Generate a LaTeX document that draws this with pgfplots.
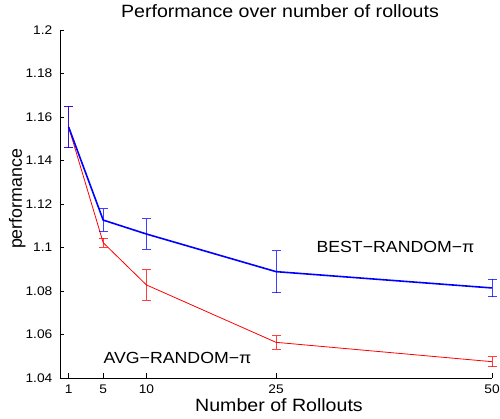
\documentclass[border=0pt]{standalone}
\usepackage{pgfplots}
\pgfplotsset{compat=1.18}
\usepackage{fontspec}
\setmainfont{Liberation Sans}[FakeStretch=1.1]
\newfontfamily\plainfont{Liberation Sans}
\begin{document}
\begin{tikzpicture}
\begin{axis}[
  name=ax,
  scale only axis, width=432pt, height=348pt,
  xmin=0, xmax=50, ymin=1.04, ymax=1.2,
  axis lines=left, axis line style={-, line width=0.6pt},
  xtick={1,5,10,25,50},
  ytick={1.04,1.06,1.08,1.1,1.12,1.14,1.16,1.18,1.2},
  tick align=inside, major tick length=4.5pt,
  tick style={black, line width=0.6pt},
  ticklabel style={font=\fontsize{12.5}{14}\selectfont, inner sep=0pt},
  xticklabel style={anchor=base, yshift=-16pt},
  yticklabel style={anchor=east, xshift=-7.5pt},
  /pgf/number format/assume math mode=true,
  yticklabel style={/pgf/number format/fixed, /pgf/number format/precision=2},
  every axis title shift=0pt,
  title={Performance over number of rollouts},
  title style={font=\fontsize{17.8}{20}\selectfont, inner sep=0pt,
    at={(rel axis cs:0.5,1)}, anchor=base, yshift=12pt, xshift=4pt},
  xlabel={Number of Rollouts},
  xlabel style={font=\fontsize{17.8}{20}\selectfont, inner sep=0pt,
    at={(rel axis cs:0.5,0)}, anchor=base, yshift=-34pt, xshift=3pt},
  ylabel={performance},
  ylabel style={font=\plainfont\fontsize{17.8}{20}\selectfont, inner sep=0pt,
    at={(rel axis cs:0,0.5)}, anchor=base, xshift=5pt, yshift=38pt},
  clip=false,
]
\addplot[red, line width=0.8pt, error bars/.cd, y dir=both, y explicit,
  error bar style={line width=0.7pt, opacity=0.75},
  error mark options={rotate=90, mark size=4.5pt, line width=0.7pt, opacity=0.75}]
  coordinates {
  (1,1.1554) +- (0,0.0095)
  (5,1.1022) +- (0,0.0021)
  (10,1.0828) +- (0,0.0070)
  (25,1.0564) +- (0,0.0030)
  (50,1.0475) +- (0,0.0023)
  };
\addplot[blue, line width=1.6pt, error bars/.cd, y dir=both, y explicit,
  error bar style={line width=0.7pt, opacity=0.75},
  error mark options={rotate=90, mark size=4.5pt, line width=0.7pt, opacity=0.75}]
  coordinates {
  (1,1.1554) +- (0,0.0095)
  (5,1.1126) +- (0,0.0052)
  (10,1.1062) +- (0,0.0071)
  (25,1.0889) +- (0,0.0097)
  (50,1.0814) +- (0,0.0040)
  };
\node[font=\fontsize{16.1}{18}\selectfont, inner sep=0pt] at (axis cs:38.83,1.1004) {BEST−RANDOM−π};
\node[font=\fontsize{16.1}{18}\selectfont, inner sep=0pt] at (axis cs:13.6,1.0494) {AVG−RANDOM−π};
\end{axis}
\pgfresetboundingbox
\path[use as bounding box] ([xshift=-60pt,yshift=-41pt]ax.south west) rectangle ([xshift=8pt,yshift=30pt]ax.north east);
\end{tikzpicture}
\end{document}
